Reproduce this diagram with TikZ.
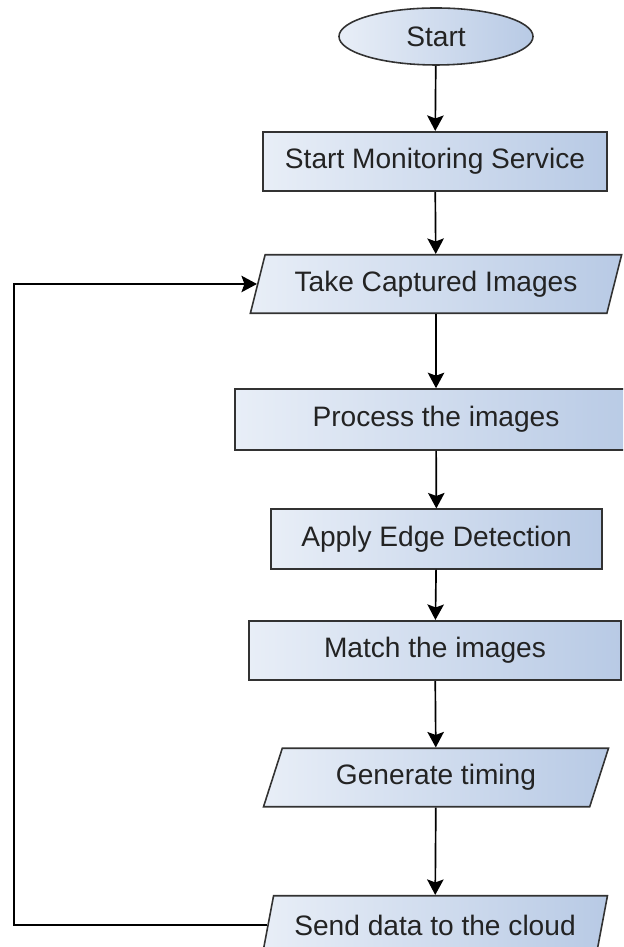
\documentclass[tikz,border=0pt]{standalone}
\usepackage{fontspec}
\setmainfont{Liberation Sans}
\usepackage{tikz}
\usetikzlibrary{shapes.geometric,arrows.meta}

\definecolor{boxleft}{RGB}{232,238,247}
\definecolor{boxright}{RGB}{184,202,229}
\definecolor{boxline}{RGB}{50,50,50}
\definecolor{boxtext}{RGB}{35,35,35}

\tikzset{
  flowbase/.style={draw=boxline, line width=0.9pt, left color=boxleft, right color=boxright,
    text=boxtext, font=\fontsize{16}{19}\selectfont, inner sep=0pt},
  terminal/.style={flowbase, ellipse, minimum width=3.88cm, minimum height=1.14cm},
  process/.style={flowbase, rectangle, minimum height=1.19cm},
  inout/.style={flowbase, trapezium, trapezium left angle=65, trapezium right angle=115,
    trapezium stretches=true, minimum height=1.17cm}
}

\begin{document}
\begin{tikzpicture}[>={Stealth[length=3.1mm,width=3.3mm,inset=0.6mm]}, line width=0.95pt]

\useasboundingbox (0,0) rectangle (12.46,18.94);
\clip (0,0) rectangle (12.46,18.94);

\node [terminal] (start) at (8.72,18.21) {Start};
\node [process, minimum width=6.88cm] (monitor) at (8.70,15.71) {Start Monitoring Service};
\node [inout, minimum width=7.44cm] (capture) at (8.72,13.26) {Take Captured Images};
\node [process, minimum width=8.04cm, minimum height=1.22cm] (proc) at (8.72,10.55) {Process the images};
\node [process, minimum width=6.62cm] (edge) at (8.73,8.16) {Apply Edge Detection};
\node [process, minimum width=7.44cm] (match) at (8.70,5.93) {Match the images};
\node [inout, minimum width=6.90cm] (timing) at (8.72,3.39) {Generate timing};
\node [inout, minimum width=6.90cm] (send) at (8.70,0.44) {Send data to the cloud};
\coordinate (loop) at (0.28,0);

\draw [->] (start) -- (monitor);
\draw [->] (monitor) -- (capture);
\draw [->] (capture) -- (proc);
\draw [->] (proc) -- (edge);
\draw [->] (edge) -- (match);
\draw [->] (match) -- (timing);
\draw [->] (timing) -- (send);
\draw [->] (send.west) -- (send.west -| loop) |- (capture.west);

\end{tikzpicture}
\end{document}
